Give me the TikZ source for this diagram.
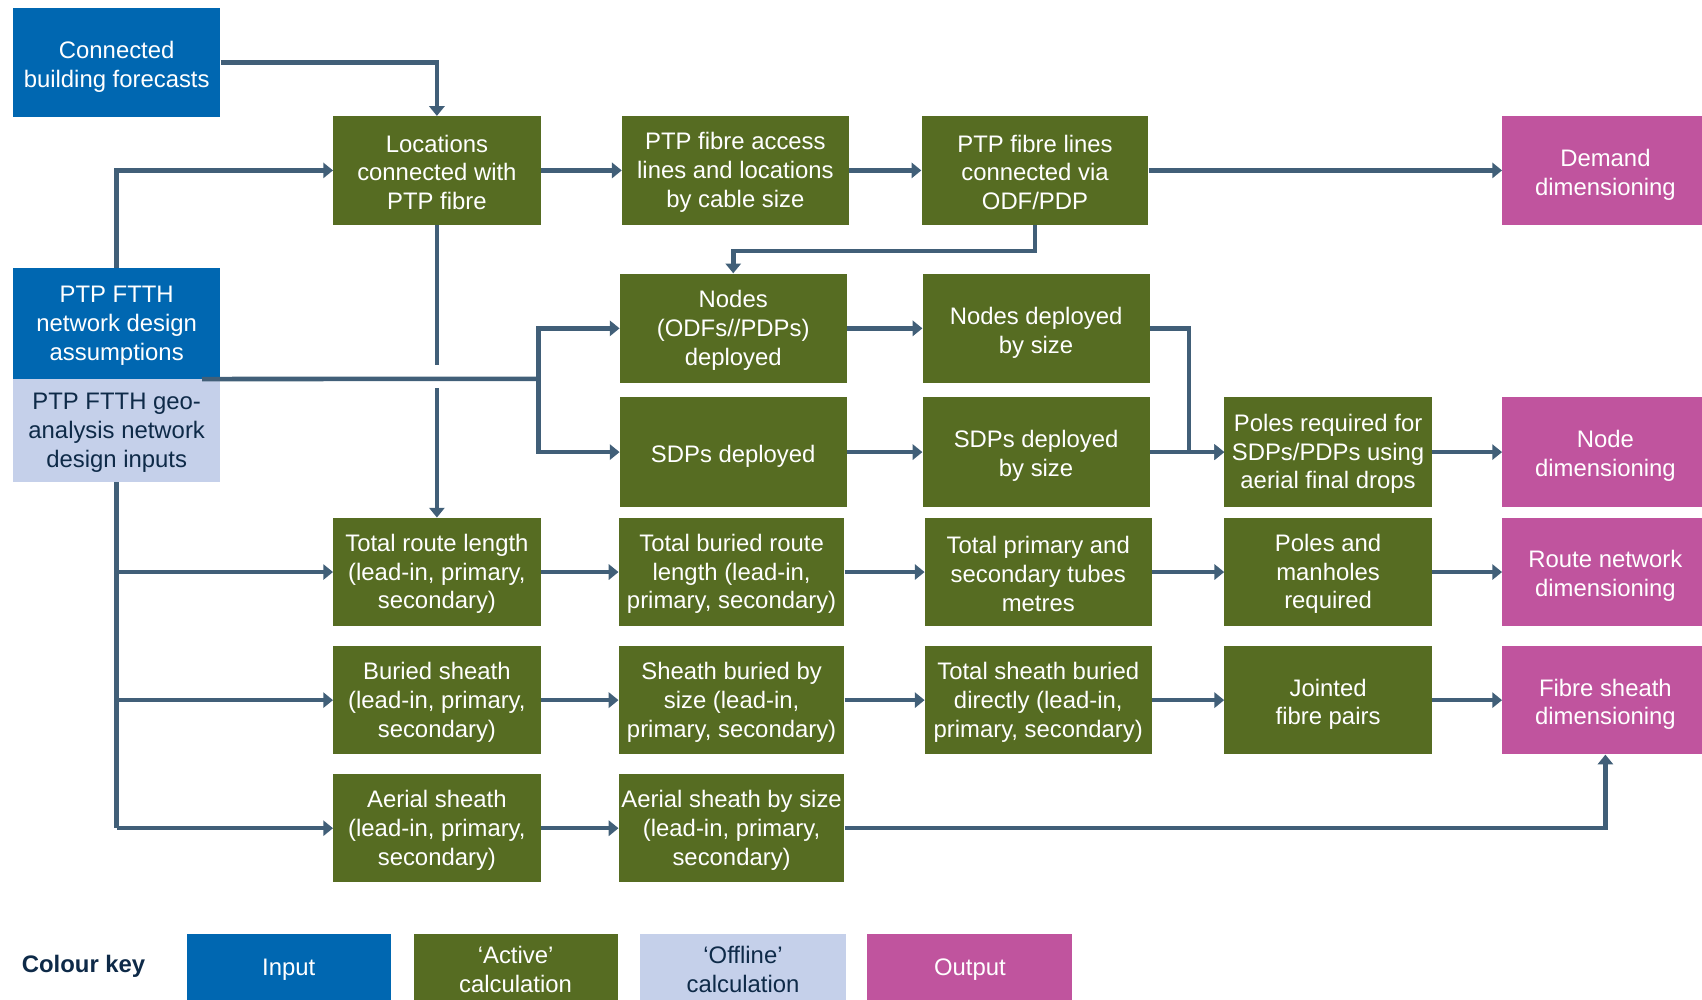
\documentclass[tikz,border=0pt]{standalone}
\usepackage{fontspec}
\setmainfont{Liberation Sans}
\usetikzlibrary{arrows.meta}
\definecolor{inblue}{RGB}{0,103,177}
\definecolor{actgreen}{RGB}{86,108,34}
\definecolor{offblue}{RGB}{197,208,234}
\definecolor{outmag}{RGB}{192,84,158}
\definecolor{connc}{RGB}{65,95,120}
\definecolor{navy}{RGB}{14,42,72}
\newcommand{\strA}{\rule{0pt}{23.5pt}}
\newcommand{\strB}{\rule{0pt}{19.5pt}}
\begin{document}
\begin{tikzpicture}[x=1pt,y=-1pt,
  box/.style={rectangle, inner sep=0pt, align=center, font=\fontsize{22}{26.5}\selectfont},
  wh/.style 2 args={minimum width=#1pt, minimum height=#2pt},
  inbox/.style={box, fill=inblue, text=white},
  actbox/.style={box, fill=actgreen, text=white},
  offbox/.style={box, fill=offblue, text=navy},
  outbox/.style={box, fill=outmag, text=white},
  conn/.style={draw=connc, line width=4.2pt},
  arr/.style={conn, -{Triangle[length=9pt,width=14pt]}}
]
\useasboundingbox (0,0) rectangle (1568,921);

% inputs
\node[inbox, wh={191}{101}] (cbf) at (107.5,57.5) {\strA Connected\\building forecasts};
\node[inbox, wh={191}{102}] (asm) at (107.5,298) {\strB PTP FTTH\\network design\\assumptions};
\node[offbox, wh={191}{95}] (geo) at (107.5,396.5) {\strB PTP FTTH geo-\\analysis network\\design inputs};

% row 1
\node[actbox, wh={191}{100}] (loc) at (402.5,157) {\strB Locations\\connected with\\PTP fibre};
\node[actbox, wh={209}{100}] (acc) at (677.5,157) {\strB PTP fibre access\\lines and locations\\by cable size};
\node[actbox, wh={209}{100}] (lin) at (953.5,157) {\strB PTP fibre lines\\connected via\\ODF/PDP};
\node[outbox, wh={190}{100}] (dem) at (1479,157) {\strA Demand\\dimensioning};

% nodes / SDPs
\node[actbox, wh={209}{101}] (nod) at (675.5,302.5) {\strB Nodes\\(ODFs//PDPs)\\deployed};
\node[actbox, wh={209}{101}] (nbs) at (954.5,302.5) {\strA Nodes deployed\\by size};
\node[actbox, wh={209}{101}] (sdp) at (675.5,416.5) {\strA SDPs deployed};
\node[actbox, wh={209}{101}] (sbs) at (954.5,416.5) {\strA SDPs deployed\\by size};
\node[actbox, wh={191}{101}] (pol) at (1223.5,416.5) {\strB Poles required for\\SDPs/PDPs using\\aerial final drops};
\node[outbox, wh={190}{101}] (ndd) at (1479,416.5) {\strA Node\\dimensioning};

% route row
\node[actbox, wh={191}{100}] (trl) at (402.5,527) {\strB Total route length\\(lead-in, primary,\\secondary)};
\node[actbox, wh={208}{100}] (tbr) at (674,527) {\strB Total buried route\\length (lead-in,\\primary, secondary)};
\node[actbox, wh={209}{100}] (tps) at (956.5,527) {\strB Total primary and\\secondary tubes\\metres};
\node[actbox, wh={191}{100}] (pam) at (1223.5,527) {\strB Poles and\\manholes\\required};
\node[outbox, wh={190}{100}] (rnd) at (1479,527) {\strA Route network\\dimensioning};

% buried sheath row
\node[actbox, wh={191}{100}] (bsh) at (402.5,645) {\strB Buried sheath\\(lead-in, primary,\\secondary)};
\node[actbox, wh={208}{100}] (sbz) at (674,645) {\strB Sheath buried by\\size (lead-in,\\primary, secondary)};
\node[actbox, wh={209}{100}] (tsb) at (956.5,645) {\strB Total sheath buried\\directly (lead-in,\\primary, secondary)};
\node[actbox, wh={191}{100}] (jfp) at (1223.5,645) {\strA Jointed\\fibre pairs};
\node[outbox, wh={190}{100}] (fsd) at (1479,645) {\strA Fibre sheath\\dimensioning};

% aerial row
\node[actbox, wh={191}{100}] (aer) at (402.5,763) {\strB Aerial sheath\\(lead-in, primary,\\secondary)};
\node[actbox, wh={208}{100}] (abs) at (674,763) {\strB Aerial sheath by size\\(lead-in, primary,\\secondary)};

% legend
\node[box, text=navy, font=\fontsize{22}{26.5}\selectfont\bfseries] (key) at (77,890) {Colour key};
\node[inbox, wh={188}{65}] (kin) at (266,893) {Input};
\node[actbox, wh={188}{65}] (kac) at (475,893) {‘Active’\\calculation};
\node[offbox, wh={189}{65}] (kof) at (684.5,893) {‘Offline’\\calculation};
\node[outbox, wh={189}{65}] (kou) at (893.5,893) {Output};

% connectors
\draw[arr] (cbf.east) -| (loc.north);
\draw[arr] (asm.north) |- (loc.west);
\draw[arr] (loc) -- (acc);
\draw[arr] (acc) -- (lin);
\draw[arr] (lin) -- (dem);
\draw[arr] (lin.south) -- ++(0,24) -| (nod.north);

% locations -> total route length, with a gap at the crossing
\draw[conn] (loc.south) -- ([yshift=-129pt]loc.south);
\draw[arr] ([yshift=119pt]trl.north) -- (trl.north);

% design assumptions / geo inputs -> nodes, SDPs
\coordinate (split) at (496,349);
\draw[conn] ([xshift=-17pt]asm.south east) -- (split);
\draw[arr] (split) |- (nod.west);
\draw[arr] (split) |- (sdp.west);

\draw[arr] (nod) -- (nbs);
\draw[arr] (sdp) -- (sbs);
\draw[arr] (nbs.east) -- ++(36,0) |- (pol.west);
\draw[arr] (sbs) -- (pol);
\draw[arr] (pol) -- (ndd);

% geo inputs -> rows
\draw[conn] (geo.south) -- (geo.south |- aer.west);
\draw[arr] (geo.south |- trl.west) -- (trl.west);
\draw[arr] (geo.south |- bsh.west) -- (bsh.west);
\draw[arr] (geo.south |- aer.west) -- (aer.west);

\draw[arr] (trl) -- (tbr);
\draw[arr] (tbr) -- (tps);
\draw[arr] (tps) -- (pam);
\draw[arr] (pam) -- (rnd);

\draw[arr] (bsh) -- (sbz);
\draw[arr] (sbz) -- (tsb);
\draw[arr] (tsb) -- (jfp);
\draw[arr] (jfp) -- (fsd);

\draw[arr] (aer) -- (abs);
\draw[arr] (abs.east) -| (fsd.south);
\end{tikzpicture}
\end{document}
